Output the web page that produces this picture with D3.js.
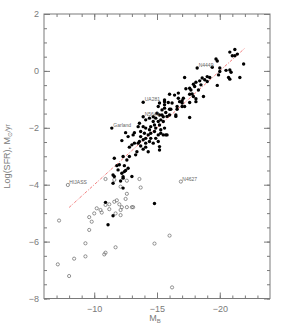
<!DOCTYPE html>
<html>
<head>
<meta charset="utf-8">
<script src="https://cdn.jsdelivr.net/npm/d3@7/dist/d3.min.js"></script>
<style>
  body { margin: 0; background: #fff; }
  text { font-family: "Liberation Sans", Arial, sans-serif; }
</style>
</head>
<body>
<script>
// galaxies with measured SFR: [M_B, log SFR]
const detected = [
  [-20.8,0.66],[-21.2,0.75],[-21.0,0.53],[-21.2,0.53],[-21.4,0.59],[-21.9,0.24],[-19.7,0.42],[-19.8,0.35],
  [-19.4,0.13],[-20.0,0.10],[-20.0,-0.02],[-19.9,-0.14],[-20.5,0.02],[-20.8,0.03],[-20.9,-0.05],[-20.7,-0.23],
  [-20.8,-0.29],[-21.6,-0.23],[-19.8,-0.51],[-17.2,-0.23],[-17.9,-0.47],[-18.1,-0.40],[-18.0,-0.55],[-17.6,-0.61],
  [-17.3,-0.63],[-17.7,-0.67],[-17.6,-0.82],[-17.9,-0.90],[-18.3,-0.67],[-18.5,-0.49],[-18.6,-0.25],[-19.0,-0.20],
  [-18.8,-0.31],[-18.7,-0.90],[-18.1,-1.08],[-17.1,-0.96],[-17.0,-1.05],[-19.2,-0.23],[-19.0,-0.37],[-18.4,-0.35],
  [-17.6,-1.64],[-18.2,0.10],[-17.8,-0.81],[-18.1,-0.98],[-17.6,-1.11],[-17.0,-1.13],
  [-16.4,-0.85],[-16.7,-0.78],[-16.0,-0.82],[-16.7,-0.96],[-16.8,-1.08],[-17.2,-1.25],[-17.0,-1.25],[-16.6,-1.25],
  [-16.2,-1.13],[-15.9,-1.11],[-15.6,-1.08],[-15.6,-1.19],[-15.2,-1.13],[-16.6,-1.35],[-16.5,-1.55],[-16.0,-1.35],
  [-15.6,-1.31],[-15.1,-1.25],[-16.0,-1.55],[-15.4,-1.37],[-15.0,-1.49],[-15.6,-1.02],[-15.4,-1.55],[-15.3,-1.72],
  [-15.7,-1.46],[-15.8,-1.60],[-16.1,-1.35],[-16.5,-1.60],[-15.5,-2.25],[-15.8,-2.25],[-15.2,-2.66],
  [-13.9,-1.10],[-13.9,-1.61],
  [-11.4,-2.01],[-12.5,-2.17],[-12.2,-2.45],[-12.7,-2.31],[-13.1,-2.25],[-13.2,-2.17],[-13.5,-1.96],[-13.6,-2.48],
  [-13.5,-2.54],[-13.2,-2.54],[-13.0,-2.60],[-12.8,-2.68],[-13.7,-2.64],[-13.9,-2.75],[-14.1,-2.68],[-14.3,-2.84],
  [-14.1,-2.54],[-13.9,-2.42],[-14.4,-2.48],[-14.7,-2.54],[-14.9,-2.37],[-15.1,-2.48],[-15.2,-2.78],[-14.1,-1.72],
  [-14.4,-1.66],[-14.7,-1.61],[-14.9,-1.66],[-15.2,-1.55],[-15.5,-1.61],[-14.7,-1.78],[-15.1,-1.78],[-14.8,-1.90],
  [-15.2,-1.90],[-15.5,-1.78],[-14.5,-1.96],[-14.9,-2.01],[-14.4,-2.07],[-14.1,-2.01],[-13.9,-1.96],[-13.6,-1.84],
  [-15.3,-2.07],[-15.6,-2.01],[-13.7,-2.13],[-14.0,-2.19],[-14.3,-2.25],[-14.5,-2.19],[-14.8,-2.13],[-15.1,-2.25],
  [-13.7,-2.31],[-14.1,-2.37],[-14.5,-2.37],[-15.3,-2.19],[-15.7,-2.25],[-12.3,-3.01],[-12.6,-3.13],[-12.8,-3.01],
  [-11.6,-3.07],[-12.0,-3.30],[-11.9,-3.48],[-12.2,-3.60],[-12.4,-3.54],[-12.7,-3.42],[-12.3,-3.72],[-11.5,-3.66],
  [-13.4,-2.84],[-13.3,-2.95],[-11.6,-3.71],[-11.5,-3.95],[-12.1,-3.87],[-12.3,-3.77],[-12.3,-4.12],[-13.0,-3.71],
  [-10.9,-4.62],[-11.5,-5.09],[-11.1,-5.41],[-14.8,-4.66],[-11.8,-3.33],[-12.4,-3.33],[-12.5,-3.50]
];

// galaxies with weak / upper-limit SFR (open circles): [M_B, log SFR]
const limits = [
  [-7.9,-4.01],[-10.9,-3.80],[-11.6,-3.83],[-12.6,-3.86],[-13.6,-3.80],[-12.1,-4.07],[-13.7,-4.10],[-12.6,-4.32],
  [-12.5,-4.50],[-10.9,-4.71],[-11.2,-4.69],[-11.6,-4.60],[-11.8,-4.55],[-12.0,-4.69],[-12.2,-4.79],[-12.1,-4.89],
  [-12.6,-4.79],[-13.0,-4.79],[-13.1,-4.79],[-10.2,-4.83],[-10.5,-4.89],[-10.6,-4.98],[-11.2,-4.86],[-10.0,-5.01],
  [-9.6,-5.14],[-9.8,-5.30],[-11.7,-5.01],[-12.1,-5.07],[-9.6,-5.59],[-7.2,-5.26],[-9.3,-6.06],[-11.7,-6.20],
  [-10.9,-6.39],[-10.8,-6.45],[-9.3,-6.52],[-8.4,-6.60],[-7.1,-6.80],[-8.0,-7.21],[-14.8,-6.07],[-16.0,-5.79],
  [-16.2,-7.61],[-16.9,-3.89]
];

const names = ["HIJASS", "Garland", "UA281", "N5641", "N4449", "N4627"];
const nameMB = [-7.9, -11.4, -13.9, -13.9, -18.2, -16.9];
const nameSFR = [-4.01, -2.01, -1.10, -1.61, 0.10, -3.89];

// log SFR = -0.4 M_B - 8
const fitMB = [-8, -22];
const fitSFR = [-4.8, 0.8];

const xMajor = [-10, -15, -20];
const xMinor = d3.range(-7, -24, -1);
const yMajor = [2, 0, -2, -4, -6, -8];
const yMinor = d3.range(-8, 2.01, 0.5);

const width = 284, height = 327;
const x = d3.scaleLinear().domain([-6, -24]).range([44, 270]);
const y = d3.scaleLinear().domain([-8, 2]).range([298.5, 14]);
const grey = "#7a7a7a";

const svg = d3.select("body").append("svg")
  .attr("width", width)
  .attr("height", height);

// frame
svg.append("rect")
  .attr("x", x(-6)).attr("y", y(2))
  .attr("width", x(-24) - x(-6)).attr("height", y(-8) - y(2))
  .attr("fill", "none").attr("stroke", grey).attr("stroke-width", 1);

function styleAxis(g) {
  g.select(".domain").remove();
  g.selectAll("line").attr("stroke", grey);
  g.selectAll("text").attr("fill", grey).style("font-size", "9px");
}

// ticks, inward on all four sides
svg.append("g").attr("transform", `translate(0,${y(-8)})`)
  .call(d3.axisBottom(x).tickValues(xMinor).tickSize(-3).tickFormat(""))
  .call(styleAxis);
svg.append("g").attr("transform", `translate(0,${y(-8)})`)
  .call(d3.axisBottom(x).tickValues(xMajor).tickSize(-6).tickPadding(7))
  .call(styleAxis);
svg.append("g").attr("transform", `translate(0,${y(2)})`)
  .call(d3.axisTop(x).tickValues(xMinor).tickSize(-3).tickFormat(""))
  .call(styleAxis);
svg.append("g").attr("transform", `translate(0,${y(2)})`)
  .call(d3.axisTop(x).tickValues(xMajor).tickSize(-6).tickFormat(""))
  .call(styleAxis);

svg.append("g").attr("transform", `translate(${x(-6)},0)`)
  .call(d3.axisLeft(y).tickValues(yMinor).tickSize(-3).tickFormat(""))
  .call(styleAxis);
svg.append("g").attr("transform", `translate(${x(-6)},0)`)
  .call(d3.axisLeft(y).tickValues(yMajor).tickSize(-6).tickPadding(5))
  .call(styleAxis);
svg.append("g").attr("transform", `translate(${x(-24)},0)`)
  .call(d3.axisRight(y).tickValues(yMinor).tickSize(-3).tickFormat(""))
  .call(styleAxis);
svg.append("g").attr("transform", `translate(${x(-24)},0)`)
  .call(d3.axisRight(y).tickValues(yMajor).tickSize(-6).tickFormat(""))
  .call(styleAxis);

// axis titles
const xt = svg.append("text")
  .attr("x", (x(-6) + x(-24)) / 2 - 2).attr("y", 321)
  .attr("text-anchor", "middle").attr("fill", grey).style("font-size", "9px");
xt.append("tspan").text("M");
xt.append("tspan").attr("dy", 2).style("font-size", "6px").text("B");

const yt = svg.append("text")
  .attr("transform", `translate(10,${(y(-8) + y(2)) / 2}) rotate(-90)`)
  .attr("text-anchor", "middle").attr("fill", grey).style("font-size", "9px");
yt.append("tspan").text("Log(SFR), M");
yt.append("tspan").attr("dy", 2).style("font-size", "6px").text("⊙");
yt.append("tspan").attr("dy", -2).style("font-size", "7px").text("/yr");

// fit line
svg.append("line")
  .attr("x1", x(fitMB[0])).attr("y1", y(fitSFR[0]))
  .attr("x2", x(fitMB[1])).attr("y2", y(fitSFR[1]))
  .attr("stroke", "#f07070").attr("stroke-width", 0.9)
  .attr("stroke-dasharray", "3,1.5,1,1.5");

// open circles
svg.append("g")
  .selectAll("circle")
  .data(limits)
  .join("circle")
  .attr("cx", d => x(d[0]))
  .attr("cy", d => y(d[1]))
  .attr("r", 1.6)
  .attr("fill", "none")
  .attr("stroke", "#666")
  .attr("stroke-width", 0.7);

// filled dots
svg.append("g")
  .selectAll("circle")
  .data(detected)
  .join("circle")
  .attr("cx", d => x(d[0]))
  .attr("cy", d => y(d[1]))
  .attr("r", 1.7)
  .attr("fill", "#000");

// galaxy names
svg.append("g")
  .selectAll("text")
  .data(names)
  .join("text")
  .attr("x", (d, i) => x(nameMB[i]) + 1.5)
  .attr("y", (d, i) => y(nameSFR[i]) - 1)
  .attr("fill", "#666")
  .style("font-size", "5px")
  .text(d => d);
</script>
</body>
</html>
